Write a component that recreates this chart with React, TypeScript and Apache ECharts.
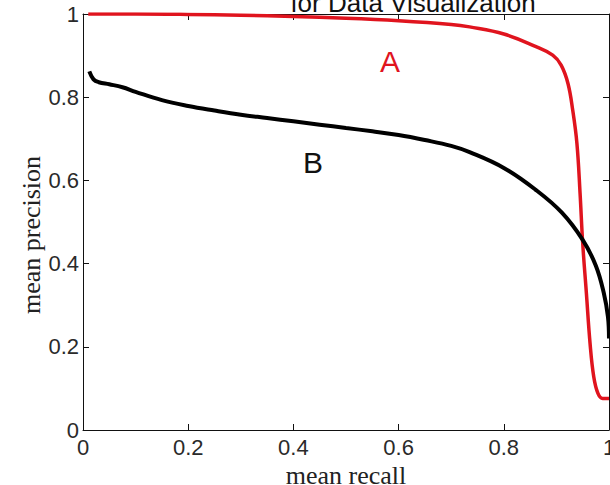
import React, { useEffect, useRef } from "react";
import * as echarts from "echarts";

const recallA = [0.01, 0.1, 0.2, 0.3, 0.4, 0.5, 0.6, 0.7, 0.735, 0.8, 0.86, 0.893, 0.909, 0.922, 0.931, 0.939, 0.945, 0.95, 0.957, 0.964, 0.971, 0.979, 0.988, 1.0];
const precisionA = [1.0, 1.0, 0.999, 0.997, 0.994, 0.99, 0.984, 0.975, 0.969, 0.952, 0.922, 0.901, 0.877, 0.833, 0.769, 0.689, 0.569, 0.449, 0.329, 0.208, 0.128, 0.088, 0.076, 0.076];

const recallB = [0.012, 0.02, 0.03, 0.05, 0.075, 0.1, 0.15, 0.2, 0.25, 0.3, 0.35, 0.4, 0.45, 0.5, 0.55, 0.6, 0.65, 0.7, 0.735, 0.8, 0.86, 0.91, 0.95, 0.975, 0.99, 0.998, 1.0];
const precisionB = [0.862, 0.843, 0.836, 0.831, 0.824, 0.813, 0.793, 0.779, 0.768, 0.758, 0.75, 0.742, 0.734, 0.726, 0.718, 0.709, 0.697, 0.683, 0.668, 0.63, 0.578, 0.523, 0.457, 0.395, 0.33, 0.272, 0.22];

const xTicks = [0, 0.2, 0.4, 0.6, 0.8, 1];
const yTicks = [0, 0.2, 0.4, 0.6, 0.8, 1];

const titleLine = "for Data Visualization";
const xName = "mean recall";
const yName = "mean precision";
const labelA = "A";
const labelB = "B";

const RED = "#e0141e";

export default function App() {
  const ref = useRef<HTMLDivElement>(null);
  useEffect(() => {
    if (!ref.current) return;
    const chart = echarts.init(ref.current, null, { renderer: "svg" });
    const dataA = recallA.map((x, i) => [x, precisionA[i]]);
    const dataB = recallB.map((x, i) => [x, precisionB[i]]);
    const fmt = (v: number) => {
      const t = [...xTicks, ...yTicks].find((k) => Math.abs(k - v) < 1e-9);
      return t === undefined ? "" : String(t);
    };
    const tickLabelStyle = { fontFamily: "Arial, Liberation Sans", fontSize: 22, color: "#2a2a2a" };
    const axisBase = {
      type: "value" as const,
      min: 0,
      max: 1,
      interval: 0.2,
      splitLine: { show: false },
      axisLine: { show: true, onZero: false, lineStyle: { color: "#111", width: 1 } },
      axisTick: { show: true, inside: true, length: 6, lineStyle: { color: "#111", width: 1 } },
    };
    chart.setOption({
      animation: false,
      backgroundColor: "#ffffff",
      grid: { left: 83, right: 1, top: 14, bottom: 55, containLabel: false, outerBoundsMode: "none" },
      xAxis: [
        {
          ...axisBase,
          position: "bottom",
          axisLabel: { ...tickLabelStyle, margin: 6, formatter: fmt },
          name: xName,
          nameLocation: "middle",
          nameGap: 28,
          nameTextStyle: { fontFamily: "Liberation Serif, Times New Roman, serif", fontSize: 26, color: "#222" },
        },
        { ...axisBase, position: "top", axisLabel: { show: false } },
      ],
      yAxis: [
        {
          ...axisBase,
          position: "left",
          axisLabel: { ...tickLabelStyle, margin: 4, formatter: fmt },
        },
        { ...axisBase, position: "right", axisLabel: { show: false } },
      ],
      series: [
        {
          type: "line",
          name: "A",
          data: dataA,
          xAxisIndex: 0,
          yAxisIndex: 0,
          showSymbol: false,
          smooth: 0.4,
          lineStyle: { color: RED, width: 3.5 },
          z: 3,
        },
        {
          type: "line",
          name: "B",
          data: dataB,
          xAxisIndex: 0,
          yAxisIndex: 0,
          showSymbol: false,
          smooth: 0.4,
          lineStyle: { color: "#000", width: 4 },
          z: 4,
        },
      ],
      graphic: [
        {
          type: "text",
          x: 413,
          y: 3,
          style: { text: titleLine, font: "26px Arial, Liberation Sans", fill: "#111", align: "center", verticalAlign: "middle" },
        },
        {
          type: "text",
          x: 390,
          y: 61,
          style: { text: labelA, font: "30px Arial, Liberation Sans", fill: RED, align: "center", verticalAlign: "middle" },
        },
        {
          type: "text",
          x: 313,
          y: 162,
          style: { text: labelB, font: "30px Arial, Liberation Sans", fill: "#111", align: "center", verticalAlign: "middle" },
        },
        {
          type: "text",
          x: 31,
          y: 235,
          rotation: Math.PI / 2,
          style: { text: yName, font: "26px Liberation Serif, Times New Roman, serif", fill: "#222", align: "center", verticalAlign: "middle" },
        },
      ],
    });
    return () => chart.dispose();
  }, []);
  return <div ref={ref} style={{ position: "absolute", left: 0, top: 0, width: 610, height: 485 }} />;
}
